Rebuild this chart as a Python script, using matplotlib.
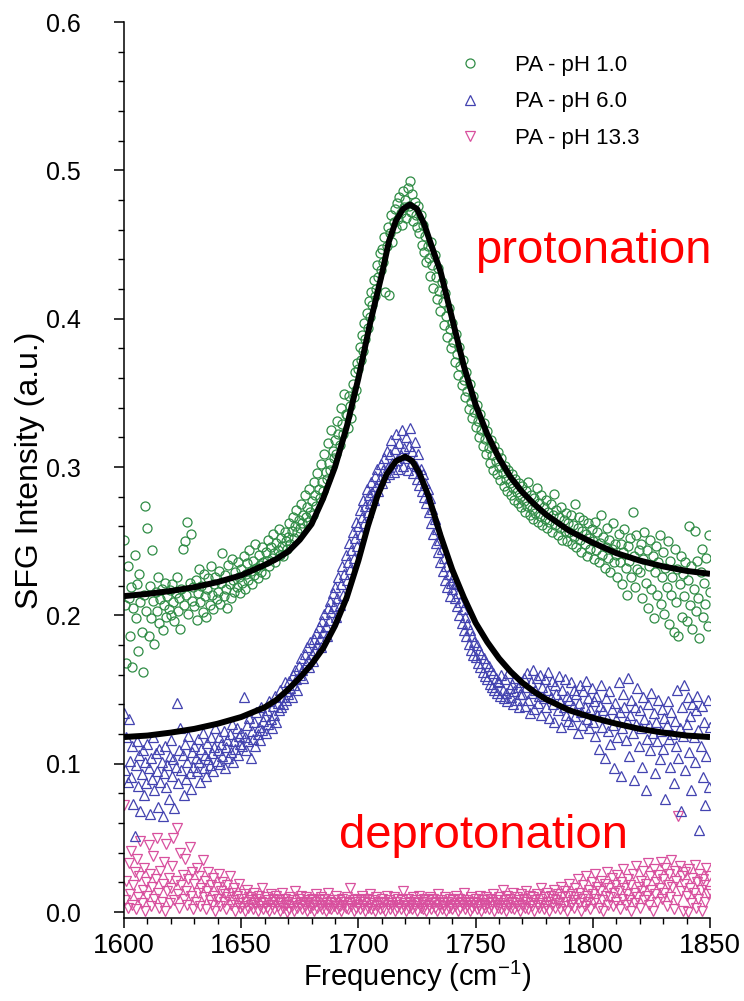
import numpy as np
import matplotlib
matplotlib.use("Agg")
import matplotlib.pyplot as plt
from matplotlib.ticker import MultipleLocator, FixedLocator
from matplotlib.lines import Line2D

plt.rcParams['font.family'] = ['Liberation Sans', 'DejaVu Sans']
plt.rcParams['mathtext.fontset'] = 'custom'
plt.rcParams['mathtext.rm'] = 'Liberation Sans'
plt.rcParams['mathtext.it'] = 'Liberation Sans:italic'
plt.rcParams['mathtext.bf'] = 'Liberation Sans:bold'

# ---------------- data (intensities in units of 0.001 a.u.) ----------------
FREQ_START = 1600.0   # cm-1
FREQ_STEP = 0.5       # cm-1 between measured points

ph1_milli = [
    251, 207, 168, 233, 212, 186, 219, 165, 205, 241, 198, 221, 176, 228, 209, 189, 162, 214, 274, 203,
    259, 186, 220, 198, 244, 210, 181, 216, 203, 226, 195, 211, 218, 190, 207, 222, 199, 213, 204, 217,
    200, 221, 209, 196, 215, 226, 203, 212, 191, 218, 245, 207, 250, 214, 263, 201, 222, 255, 210, 219,
    206, 224, 197, 215, 231, 209, 220, 202, 228, 213, 199, 218, 225, 207, 233, 214, 204, 221, 226, 211,
    216, 230, 208, 222, 242, 213, 227, 218, 205, 234, 221, 212, 238, 224, 216, 229, 219, 236, 226, 215,
    231, 222, 240, 218, 228, 235, 224, 244, 230, 221, 237, 227, 248, 232, 225, 241, 234, 229, 246, 236,
    228, 243, 237, 251, 233, 246, 239, 255, 242, 236, 249, 244, 258, 241, 252, 247, 240, 256, 250, 245,
    253, 262, 248, 257, 266, 252, 260, 271, 256, 264, 259, 275, 262, 268, 281, 266, 273, 263, 285, 270,
    277, 268, 290, 281, 274, 296, 285, 279, 302, 290, 284, 309, 297, 292, 316, 303, 298, 325, 311, 306,
    318, 309, 331, 322, 315, 340, 329, 322, 349, 336, 335, 326, 348, 341, 333, 356, 347, 364, 352, 370,
    366, 381, 372, 389, 378, 397, 386, 404, 394, 412, 401, 418, 409, 426, 415, 420, 436, 428, 444, 433,
    447, 438, 455, 418, 449, 462, 416, 458, 470, 452, 465, 474, 461, 478, 467, 482, 471, 463, 486, 475,
    480, 468, 488, 476, 493, 472, 484, 466, 479, 470, 462, 476, 458, 470, 450, 463, 445, 456, 438, 449,
    441, 429, 452, 436, 421, 443, 428, 413, 434, 419, 405, 425, 411, 396, 417, 402, 388, 407, 393, 380,
    397, 384, 371, 390, 376, 362, 381, 368, 355, 372, 359, 347, 364, 351, 339, 356, 344, 333, 348, 337,
    327, 342, 331, 320, 336, 325, 314, 330, 319, 309, 324, 313, 303, 318, 308, 298, 314, 304, 295, 310,
    300, 291, 306, 296, 287, 301, 292, 284, 298, 289, 281, 295, 286, 278, 292, 283, 276, 289, 280, 273,
    287, 277, 270, 284, 274, 290, 268, 281, 272, 265, 279, 269, 286, 263, 276, 267, 281, 261, 273, 265,
    278, 259, 270, 263, 275, 256, 268, 282, 261, 271, 254, 266, 259, 273, 251, 264, 257, 269, 250, 262,
    256, 268, 248, 261, 253, 275, 246, 259, 266, 251, 243, 257, 264, 248, 255, 240, 262, 252, 245, 258,
    250, 238, 263, 244, 256, 236, 249, 268, 241, 253, 232, 246, 259, 239, 251, 229, 245, 262, 236, 248,
    241, 226, 255, 236, 248, 221, 243, 258, 232, 214, 247, 237, 252, 226, 270, 240, 219, 254, 231, 244,
    229, 248, 212, 238, 256, 222, 244, 205, 233, 251, 218, 240, 198, 229, 247, 214, 236, 254, 208, 226,
    243, 201, 232, 219, 250, 194, 237, 214, 226, 189, 245, 209, 231, 186, 221, 240, 199, 228, 213, 236,
    196, 224, 260, 207, 233, 191, 218, 257, 203, 237, 212, 185, 229, 245, 199, 222, 208, 239, 193, 254,
    216,
]

ph6_milli = [
    134, 96, 118, 88, 130, 102, 91, 112, 73, 51, 99, 115, 85, 106, 68, 93, 109, 79, 101, 87,
    113, 97, 66, 104, 90, 118, 82, 107, 95, 71, 110, 88, 101, 65, 94, 112, 84, 99, 76, 105,
    116, 92, 103, 70, 98, 141, 87, 109, 124, 96, 106, 79, 113, 90, 101, 119, 94, 83, 108, 98,
    112, 104, 95, 117, 101, 88, 110, 121, 97, 106, 92, 114, 103, 99, 118, 107, 95, 111, 124, 102,
    109, 118, 100, 113, 105, 122, 97, 111, 116, 104, 120, 108, 127, 101, 115, 110, 124, 106, 119, 113,
    121, 112, 145, 118, 109, 126, 115, 131, 104, 122, 117, 128, 112, 135, 120, 125, 116, 138, 123, 129,
    132, 121, 136, 127, 142, 130, 124, 139, 133, 146, 128, 141, 136, 150, 138, 145, 140, 155, 143, 149,
    147, 156, 151, 145, 160, 153, 163, 157, 150, 166, 160, 171, 163, 158, 174, 167, 179, 170, 165, 182,
    174, 169, 184, 177, 188, 181, 192, 185, 179, 196, 189, 201, 193, 186, 205, 197, 210, 202, 215, 206,
    219, 199, 212, 226, 207, 221, 233, 214, 228, 241, 224, 236, 249, 231, 244, 256, 239, 252, 263, 247,
    260, 271, 255, 266, 278, 262, 274, 285, 270, 281, 276, 290, 283, 278, 294, 287, 299, 284, 292, 302,
    289, 298, 306, 293, 311, 300, 295, 309, 318, 303, 297, 312, 322, 305, 299, 316, 308, 325, 301, 313,
    306, 320, 298, 314, 326, 303, 311, 296, 317, 301, 292, 309, 288, 299, 284, 295, 280, 289, 276, 285,
    270, 279, 262, 272, 255, 265, 249, 258, 243, 251, 236, 245, 230, 239, 224, 233, 219, 228, 213, 222,
    218, 226, 212, 221, 206, 215, 200, 209, 195, 204, 190, 199, 186, 194, 181, 190, 177, 186, 173, 182,
    172, 180, 168, 177, 165, 174, 162, 171, 159, 168, 157, 166, 154, 163, 152, 161, 150, 158, 148, 156,
    155, 146, 160, 150, 144, 157, 148, 142, 161, 151, 145, 154, 140, 149, 158, 143, 152, 138, 147, 155,
    147, 158, 139, 152, 161, 143, 134, 155, 148, 163, 137, 150, 158, 141, 146, 160, 133, 152, 144, 157,
    138, 150, 162, 131, 145, 156, 140, 128, 153, 147, 136, 159, 142, 125, 150, 138, 157, 133, 146, 129,
    143, 155, 127, 139, 150, 132, 147, 121, 141, 153, 135, 126, 149, 138, 156, 130, 144, 124, 137, 151,
    128, 142, 119, 146, 133, 110, 139, 153, 125, 136, 104, 144, 131, 122, 149, 113, 137, 126, 97, 141,
    130, 118, 155, 135, 92, 124, 147, 138, 116, 129, 158, 105, 133, 143, 121, 89, 138, 127, 151, 112,
    136, 124, 98, 145, 130, 82, 117, 140, 126, 109, 148, 121, 134, 94, 128, 115, 143, 103, 122, 137,
    110, 131, 76, 126, 142, 117, 98, 135, 120, 87, 129, 112, 150, 104, 124, 68, 138, 119, 153, 96,
    127, 145, 108, 132, 82, 140, 118, 101, 136, 146, 123, 55, 112, 139, 91, 128, 72, 105, 143, 84,
    125,
]

ph13_milli = [
    72, 8, 21, 3, 33, 12, 41, 5, 18, 27, 2, 36, 10, 24, 48, 6, 15, 30, 1, 20,
    11, 45, 26, 4, 17, 38, 9, 22, 50, 13, 3, 28, 7, 19, 34, 1, 46, 14, 23, 6,
    16, 31, 50, 8, 21, 57, 12, 3, 40, 18, 25, 9, 36, 14, 5, 22, 44, 11, 27, 2,
    19, 7, 30, 13, 24, 4, 16, 35, 10, 21, 2, 14, 27, 8, 18, 5, 23, 11, 1, 17,
    9, 26, 4, 14, 20, 7, 12, 2, 18, 10, 24, 5, 13, 8, 16, 1, 11, 6, 19, 3,
    9, 4, 12, 1, 7, 15, 3, 10, 5, 8, 2, 13, 6, 9, 1, 11, 4, 7, 16, 2,
    6, 10, 3, 8, 1, 12, 5, 9, 2, 7, 11, 4, 8, 1, 6, 13, 3, 9, 5, 0,
    7, 2, 10, 4, 8, 1, 14, 6, 3, 9, 5, 11, 2, 7, 4, 10, 1, 6, 8, 3,
    9, 5, 1, 7, 12, 3, 8, 4, 10, 2, 6, 9, 1, 5, 13, 3, 7, 2, 8, 4,
    6, 11, 2, 8, 4, 1, 9, 5, 7, 3, 10, 2, 6, 16, 4, 8, 1, 7, 3, 9,
    5, 2, 8, 11, 4, 7, 1, 9, 3, 6, 12, 2, 8, 5, 1, 10, 4, 7, 2, 6,
    9, 3, 7, 1, 11, 5, 8, 2, 6, 4, 10, 1, 7, 3, 9, 5, 2, 8, 14, 4,
    6, 1, 9, 3, 7, 5, 2, 10, 4, 8, 1, 6, 11, 3, 7, 2, 9, 5, 1, 8,
    4, 10, 2, 6, 9, 3, 7, 1, 12, 5, 8, 2, 6, 4, 10, 1, 7, 3, 9, 5,
    2, 8, 4, 11, 6, 1, 9, 3, 7, 5, 13, 2, 8, 4, 6, 1, 10, 3, 7, 5,
    9, 2, 6, 4, 11, 1, 8, 5, 3, 10, 6, 2, 9, 4, 7, 12, 1, 8, 5, 3,
    10, 6, 2, 15, 4, 8, 1, 11, 5, 9, 3, 7, 13, 2, 6, 10, 4, 8, 1, 12,
    5, 9, 3, 14, 7, 2, 11, 6, 4, 10, 1, 8, 12, 5, 3, 9, 16, 6, 2, 10,
    4, 13, 7, 1, 11, 5, 9, 15, 3, 8, 12, 6, 2, 17, 10, 4, 14, 7, 1, 11,
    19, 5, 12, 8, 3, 16, 10, 22, 6, 13, 1, 9, 18, 4, 24, 11, 7, 15, 2, 20,
    12, 6, 26, 9, 17, 3, 14, 21, 8, 1, 19, 11, 27, 5, 16, 10, 23, 4, 13, 18,
    7, 25, 14, 2, 20, 9, 29, 16, 5, 12, 22, 8, 18, 1, 26, 13, 6, 31, 10, 17,
    3, 21, 14, 28, 8, 19, 11, 33, 5, 24, 15, 1, 29, 12, 20, 7, 25, 16, 34, 9,
    22, 13, 30, 4, 18, 26, 10, 35, 17, 2, 28, 21, 8, 65, 31, 14, 24, 1, 19, 27,
    11, 0, 29, 16, 6, 23, 13, 32, 3, 20, 9, 26, 15, 1, 22, 18, 7, 30, 12, 24,
    14,
]

# fitted curves
fit1_freq = [1600, 1610, 1620, 1630, 1640, 1650, 1660, 1665, 1670, 1675, 1680, 1685, 1690, 1695,
             1700, 1705, 1710, 1713, 1716, 1719, 1722, 1725, 1728, 1731, 1735, 1740, 1745, 1750,
             1755, 1760, 1765, 1770, 1775, 1780, 1790, 1800, 1810, 1820, 1830, 1840, 1850]
fit1_val = [0.2130, 0.2145, 0.2165, 0.2190, 0.2225, 0.2270, 0.2340, 0.2380, 0.2430, 0.2510, 0.2615,
            0.2790, 0.3000, 0.3270, 0.3600, 0.3970, 0.4300, 0.4520, 0.4660, 0.4740, 0.4770, 0.4740,
            0.4640, 0.4500, 0.4320, 0.4000, 0.3680, 0.3420, 0.3220, 0.3060, 0.2930, 0.2830, 0.2750,
            0.2680, 0.2570, 0.2490, 0.2420, 0.2370, 0.2330, 0.2300, 0.2280]

fit6_freq = [1600, 1610, 1620, 1630, 1640, 1650, 1660, 1665, 1670, 1675, 1680, 1685, 1690, 1695,
             1700, 1704, 1708, 1712, 1716, 1720, 1723, 1726, 1730, 1735, 1740, 1745, 1750, 1755,
             1760, 1765, 1770, 1775, 1780, 1790, 1800, 1810, 1820, 1830, 1840, 1850]
fit6_val = [0.1180, 0.1190, 0.1210, 0.1235, 0.1270, 0.1315, 0.1380, 0.1430, 0.1500, 0.1580, 0.1670,
            0.1780, 0.1930, 0.2120, 0.2370, 0.2600, 0.2800, 0.2950, 0.3040, 0.3070, 0.3040, 0.2960,
            0.2800, 0.2540, 0.2310, 0.2120, 0.1950, 0.1820, 0.1710, 0.1620, 0.1545, 0.1485, 0.1435,
            0.1360, 0.1310, 0.1270, 0.1235, 0.1210, 0.1190, 0.1180]

series_labels = ["PA - pH 1.0", "PA - pH 6.0", "PA - pH 13.3"]
x_ticks = [1600, 1650, 1700, 1750, 1800, 1850]
y_ticks = [0.0, 0.1, 0.2, 0.3, 0.4, 0.5, 0.6]


def to_xy(milli):
    vals = np.asarray(milli, dtype=float) / 1000.0
    freq = FREQ_START + FREQ_STEP * np.arange(len(vals))
    return freq, vals


GREEN = '#2f8c45'
BLUE = '#4343b0'
PINK = '#d8509e'

fig = plt.figure(figsize=(7.44, 10.01), dpi=100)
ax = fig.add_axes([0.1667, 0.0829, 0.7876, 0.8951])

mk = dict(linestyle='none', markerfacecolor='none', markersize=6.5, markeredgewidth=0.9)
x1, y1 = to_xy(ph1_milli)
x6, y6 = to_xy(ph6_milli)
x13, y13 = to_xy(ph13_milli)
ax.plot(x13, y13, marker='v', markeredgecolor=PINK, zorder=2, **mk)
ax.plot(x6, y6, marker='^', markeredgecolor=BLUE, zorder=2, **mk)
ax.plot(x1, y1, marker='o', markeredgecolor=GREEN, zorder=2, **mk)
ax.plot(fit1_freq, fit1_val, color='black', lw=4.3, zorder=3, solid_capstyle='butt')
ax.plot(fit6_freq, fit6_val, color='black', lw=4.3, zorder=3, solid_capstyle='butt')

ax.set_xlim(1600, 1850)
ax.set_ylim(-0.004, 0.6)
ax.spines['top'].set_visible(False)
ax.spines['right'].set_visible(False)
for s in ('left', 'bottom'):
    ax.spines[s].set_linewidth(1.1)

ax.xaxis.set_major_locator(FixedLocator(x_ticks))
ax.xaxis.set_minor_locator(MultipleLocator(10))
ax.yaxis.set_major_locator(FixedLocator(y_ticks))
ax.yaxis.set_minor_locator(MultipleLocator(0.02))
ax.set_xticklabels([str(t) for t in x_ticks])
ax.set_yticklabels([f"{t:.1f}" for t in y_ticks])
ax.tick_params(axis='both', which='major', direction='out', length=7, width=1.1)
ax.tick_params(axis='both', which='minor', direction='out', length=4, width=1.0)
ax.tick_params(axis='y', which='major', labelsize=18, pad=24)
ax.tick_params(axis='x', which='major', labelsize=20, pad=4)

ax.set_xlabel("Frequency (cm$^{-1}$)", fontsize=21, labelpad=0)
ax.set_ylabel("SFG Intensity (a.u.)", fontsize=23, labelpad=1)

handles = [
    Line2D([], [], marker='o', markeredgecolor=GREEN, **mk),
    Line2D([], [], marker='^', markeredgecolor=BLUE, **mk),
    Line2D([], [], marker='v', markeredgecolor=PINK, **mk),
]
ax.legend(handles, series_labels, loc='upper left', bbox_to_anchor=(448 / 744, 1 - 55 / 1001),
          bbox_transform=fig.transFigure, frameon=False, fontsize=16, handlelength=2.0,
          handletextpad=1.0, labelspacing=0.69, borderpad=0, borderaxespad=0)

ax.text(1800.1, 0.4378, "protonation", color='red', fontsize=34, ha='center', va='baseline')
ax.text(1753.4, 0.0432, "deprotonation", color='red', fontsize=34, ha='center', va='baseline')

fig.savefig("out.png", dpi=100)
